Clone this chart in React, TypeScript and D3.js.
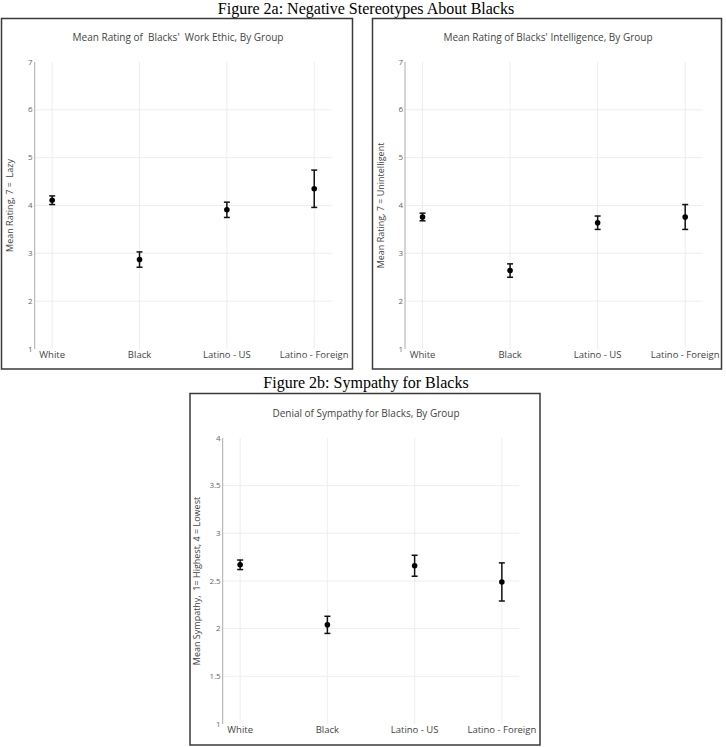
import React, { useEffect, useRef } from 'react';
import * as d3 from 'd3';

const groups = ['White', 'Black', 'Latino - US', 'Latino - Foreign'];

// Figure 2a, left: work ethic (7 = lazy)
const workEthicMean = [4.11, 2.87, 3.91, 4.35];
const workEthicErr = [0.09, 0.16, 0.16, 0.39];

// Figure 2a, right: intelligence (7 = unintelligent)
const intelMean = [3.76, 2.64, 3.64, 3.76];
const intelErr = [0.08, 0.14, 0.14, 0.26];

// Figure 2b: denial of sympathy
const sympathyMean = [2.67, 2.04, 2.66, 2.49];
const sympathyErr = [0.05, 0.09, 0.11, 0.2];

const ratingTicks = [1, 2, 3, 4, 5, 6, 7];
const sympathyTicks = [1, 1.5, 2, 2.5, 3, 3.5, 4];

const FONT = "'Open Sans', sans-serif";

function drawPanel(svg, opts) {
    const { box, plot, title, yTitle, ticks, mean, err } = opts;

    // border
    svg.append('rect')
        .attr('x', box.x0)
        .attr('y', box.y0)
        .attr('width', box.x1 - box.x0)
        .attr('height', box.y1 - box.y0)
        .attr('fill', 'white')
        .attr('stroke', '#3a3a3a')
        .attr('stroke-width', 1.5);

    const x = d3.scaleLinear()
        .domain([-0.2, groups.length - 1 + 0.2])
        .range([plot.x0, plot.x1]);

    const y = d3.scaleLinear()
        .domain([ticks[0], ticks[ticks.length - 1]])
        .range([plot.y1, plot.y0]);

    // title
    svg.append('text')
        .attr('x', (box.x0 + box.x1) / 2 + 1)
        .attr('y', plot.titleY)
        .attr('text-anchor', 'middle')
        .style('font-family', FONT)
        .style('font-size', '10px')
        .style('white-space', 'pre')
        .style('fill', '#444')
        .text(title);

    // grid
    ticks.slice(1, -1).forEach(t => {
        svg.append('line')
            .attr('x1', plot.x0)
            .attr('x2', plot.x1)
            .attr('y1', y(t))
            .attr('y2', y(t))
            .style('stroke', '#eeeeee')
            .style('stroke-width', 1);
    });
    groups.forEach((g, i) => {
        svg.append('line')
            .attr('x1', x(i))
            .attr('x2', x(i))
            .attr('y1', plot.y0)
            .attr('y2', plot.y1)
            .style('stroke', '#eeeeee')
            .style('stroke-width', 1);
    });

    // y axis line
    svg.append('line')
        .attr('x1', plot.x0)
        .attr('x2', plot.x0)
        .attr('y1', plot.y0)
        .attr('y2', plot.y1)
        .style('stroke', '#aaaaaa')
        .style('stroke-width', 1);

    // y tick labels
    ticks.forEach(t => {
        svg.append('text')
            .attr('x', plot.x0 - 2)
            .attr('y', y(t) + 2.5)
            .attr('text-anchor', 'end')
            .style('font-family', FONT)
            .style('font-size', '8px')
            .style('fill', '#666')
            .text(t);
    });

    // x tick labels
    groups.forEach((g, i) => {
        svg.append('text')
            .attr('x', x(i))
            .attr('y', plot.y1 + 9)
            .attr('text-anchor', 'middle')
            .style('font-family', FONT)
            .style('font-size', '9.5px')
            .style('fill', '#444')
            .text(g);
    });

    // y title
    const cy = (plot.y0 + plot.y1) / 2;
    svg.append('text')
        .attr('transform', 'translate(' + plot.yTitleX + ',' + cy + ') rotate(-90)')
        .attr('text-anchor', 'middle')
        .style('font-family', FONT)
        .style('font-size', '9px')
        .style('white-space', 'pre')
        .style('fill', '#444')
        .text(yTitle);

    // error bars + points
    mean.forEach((m, i) => {
        const cx = x(i);
        const top = y(m + err[i]);
        const bot = y(m - err[i]);
        svg.append('line')
            .attr('x1', cx).attr('x2', cx)
            .attr('y1', top).attr('y2', bot)
            .style('stroke', '#111')
            .style('stroke-width', 1.5);
        [top, bot].forEach(yy => {
            svg.append('line')
                .attr('x1', cx - 3).attr('x2', cx + 3)
                .attr('y1', yy).attr('y2', yy)
                .style('stroke', '#111')
                .style('stroke-width', 1.5);
        });
        svg.append('circle')
            .attr('cx', cx)
            .attr('cy', y(m))
            .attr('r', 2.8)
            .attr('fill', '#000');
    });
}

export default function App() {
    const ref = useRef(null);

    useEffect(() => {
        const svg = d3.select(ref.current);
        svg.selectAll('*').remove();

        svg.append('text')
            .attr('x', 366)
            .attr('y', 13.5)
            .attr('text-anchor', 'middle')
            .style('font-family', "'Liberation Serif', 'Times New Roman', serif")
            .style('font-size', '16px')
            .style('fill', '#000')
            .text('Figure 2a: Negative Stereotypes About Blacks');

        svg.append('text')
            .attr('x', 366)
            .attr('y', 388)
            .attr('text-anchor', 'middle')
            .style('font-family', "'Liberation Serif', 'Times New Roman', serif")
            .style('font-size', '16px')
            .style('fill', '#000')
            .text('Figure 2b: Sympathy for Blacks');

        drawPanel(svg, {
            box: { x0: 1.5, y0: 18.5, x1: 352.5, y1: 369 },
            plot: { x0: 34.7, x1: 331.7, y0: 62, y1: 349, titleY: 40.5, yTitleX: 13 },
            title: "Mean Rating of  Blacks'  Work Ethic, By Group",
            yTitle: 'Mean Rating, 7 =  Lazy',
            ticks: ratingTicks,
            mean: workEthicMean,
            err: workEthicErr,
        });

        drawPanel(svg, {
            box: { x0: 372.5, y0: 18.5, x1: 721.5, y1: 369 },
            plot: { x0: 405, x1: 702.7, y0: 62, y1: 349, titleY: 40.5, yTitleX: 384 },
            title: "Mean Rating of Blacks' Intelligence, By Group",
            yTitle: 'Mean Rating, 7 = Unintelligent',
            ticks: ratingTicks,
            mean: intelMean,
            err: intelErr,
        });

        drawPanel(svg, {
            box: { x0: 190, y0: 393.5, x1: 540, y1: 745 },
            plot: { x0: 222.7, x1: 519.3, y0: 438, y1: 724, titleY: 416.5, yTitleX: 200 },
            title: 'Denial of Sympathy for Blacks, By Group',
            yTitle: 'Mean Sympathy,  1= Highest, 4 = Lowest',
            ticks: sympathyTicks,
            mean: sympathyMean,
            err: sympathyErr,
        });
    }, []);

    return (
        <svg
            ref={ref}
            width={726}
            height={747}
            style={{ position: 'absolute', left: 0, top: 0, background: 'white' }}
        />
    );
}
